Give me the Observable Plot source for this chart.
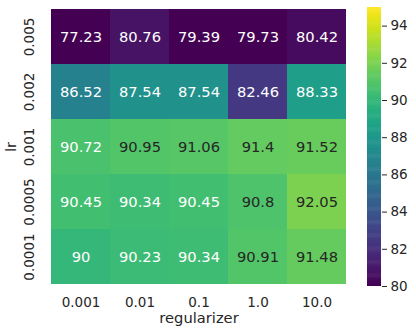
<!DOCTYPE html>
<html>
<head>
<meta charset="utf-8">
<script src="https://cdn.jsdelivr.net/npm/d3@7"></script>
<script src="https://cdn.jsdelivr.net/npm/@observablehq/plot@0.6"></script>
<style>
  body { margin: 0; background: #fff; }
  #wrap { position: relative; width: 416px; height: 335px; font-family: "DejaVu Sans", sans-serif; }
  #wrap svg { position: absolute; left: 0; top: 0; }
</style>
</head>
<body>
<div id="wrap"></div>
<script>
// Data
const regularizers = ["0.001", "0.01", "0.1", "1.0", "10.0"];
const lrs = ["0.005", "0.002", "0.001", "0.0005", "0.0001"];
const values = [
  [77.23, 80.76, 79.39, 79.73, 80.42],   // lr 0.005
  [86.52, 87.54, 87.54, 82.46, 88.33],   // lr 0.002
  [90.72, 90.95, 91.06, 91.4, 91.52],    // lr 0.001
  [90.45, 90.34, 90.45, 90.8, 92.05],    // lr 0.0005
  [90, 90.23, 90.34, 90.91, 91.48]       // lr 0.0001
];
const colorDomain = [80, 95];
const colorTicks = [80, 82, 84, 86, 88, 90, 92, 94];

const cells = [];
lrs.forEach((lr, i) => regularizers.forEach((r, j) => cells.push({lr, reg: r, value: values[i][j]})));

function lum(v) {
  const t = Math.max(0, Math.min(1, (v - colorDomain[0]) / (colorDomain[1] - colorDomain[0])));
  const c = d3.rgb(d3.interpolateViridis(t));
  const f = x => { x /= 255; return x <= 0.03928 ? x / 12.92 : Math.pow((x + 0.055) / 1.055, 2.4); };
  return 0.2126 * f(c.r) + 0.7152 * f(c.g) + 0.0722 * f(c.b);
}

const W = 416, H = 335;
const colorScale = {type: "linear", scheme: "viridis", domain: colorDomain, clamp: true};
const font = "DejaVu Sans, sans-serif";
const dark = "#262626";

const main = Plot.plot({
  width: W, height: H,
  marginLeft: 49, marginRight: 68, marginTop: 7, marginBottom: 49,
  style: {fontFamily: font, color: dark, background: "transparent"},
  x: {type: "band", domain: regularizers, padding: 0},
  y: {type: "band", domain: lrs, padding: 0},
  color: colorScale,
  marks: [
    Plot.cell(cells, {x: "reg", y: "lr", fill: "value", inset: 0}),
    Plot.text(cells, {x: "reg", y: "lr", text: d => String(d.value), fontSize: 14.7,
      fill: d => lum(d.value) > 0.408 ? dark : "white"}),
    Plot.axisX({tickSize: 0, tickPadding: 11, fontSize: 13.5, label: null, fill: dark}),
    Plot.axisY({ticks: [], label: null, tickSize: 0}),
    Plot.text(lrs, {y: d => d, text: d => d, frameAnchor: "left", dx: -20, rotate: -90,
      textAnchor: "middle", lineAnchor: "middle", fontSize: 13.5, fill: dark}),
    Plot.text(["regularizer"], {frameAnchor: "bottom", dy: 32, lineAnchor: "middle", fontSize: 14.7, fill: dark}),
    Plot.text(["lr"], {frameAnchor: "left", dx: -38.5, rotate: -90, textAnchor: "middle",
      lineAnchor: "middle", fontSize: 14.7, fill: dark})
  ]
});

const step = 0.05;
const strips = d3.range(colorDomain[0], colorDomain[1], step);
const bar = Plot.plot({
  width: W, height: H,
  marginLeft: 367, marginRight: 35, marginTop: 7, marginBottom: 49,
  style: {fontFamily: font, color: dark, background: "transparent"},
  y: {type: "linear", domain: colorDomain},
  color: colorScale,
  marks: [
    Plot.rect(strips, {y1: d => d, y2: d => Math.min(colorDomain[1], d + step * 1.6), fill: d => d + step / 2}),
    Plot.axisY({anchor: "right", ticks: colorTicks, tickSize: 5, tickPadding: 4, fontSize: 13.5,
      label: null, stroke: dark, fill: dark, strokeWidth: 1})
  ]
});

document.getElementById("wrap").append(main, bar);
</script>
</body>
</html>
